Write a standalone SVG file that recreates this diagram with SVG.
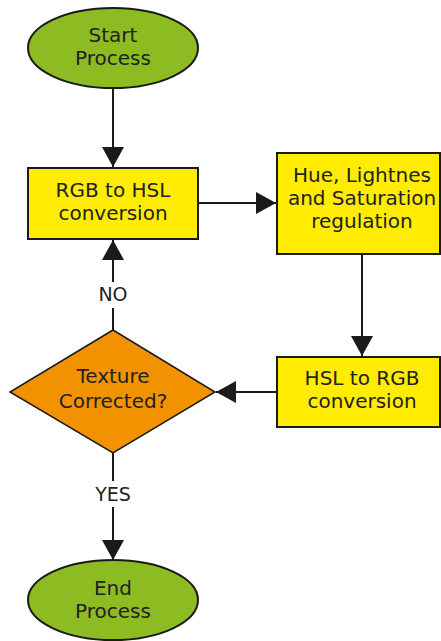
<svg xmlns="http://www.w3.org/2000/svg" width="441" height="641" viewBox="0 0 441 641">
<defs>
<marker id="arr" markerWidth="22" markerHeight="22" refX="20" refY="11" orient="auto" markerUnits="userSpaceOnUse">
<path d="M0,0 L20,11 L0,22 Z" fill="#1a1a1a"/>
</marker>
<style>
.t{font-family:"DejaVu Sans","Verdana",sans-serif;font-size:20px;fill:#222;text-anchor:middle}
.l{font-size:19px}
.term{fill:#8cbb22;stroke:#1a1a1a;stroke-width:2}
.proc{fill:#ffec00;stroke:#1a1a1a;stroke-width:2}
.dec{fill:#f39200;stroke:#1a1a1a;stroke-width:1.5}
.c{stroke:#1a1a1a;stroke-width:2;fill:none}
</style>
</defs>
<rect width="441" height="641" fill="#ffffff"/>
<g id="connectors">
<line class="c" x1="113" y1="88" x2="113" y2="167" marker-end="url(#arr)"/>
<line class="c" x1="198" y1="203" x2="276" y2="203" marker-end="url(#arr)"/>
<line class="c" x1="362" y1="254" x2="362" y2="356" marker-end="url(#arr)"/>
<line class="c" x1="277" y1="392" x2="216" y2="392" marker-end="url(#arr)"/>
<line class="c" x1="113" y1="330" x2="113" y2="308"/>
<line class="c" x1="113" y1="282" x2="113" y2="240" marker-end="url(#arr)"/>
<line class="c" x1="113" y1="453" x2="113" y2="481"/>
<line class="c" x1="113" y1="507" x2="113" y2="560" marker-end="url(#arr)"/>
<text class="t l" x="113" y="301">NO</text>
<text class="t l" x="113" y="501">YES</text>
</g>
<g id="start">
<ellipse class="term" cx="113" cy="48" rx="85" ry="40"/>
<text class="t" x="113" y="42">Start</text>
<text class="t" x="113" y="65">Process</text>
</g>
<g id="rgb2hsl">
<rect class="proc" x="28" y="168" width="170" height="71"/>
<text class="t" x="113" y="197">RGB to HSL</text>
<text class="t" x="113" y="220">conversion</text>
</g>
<g id="regulation">
<rect class="proc" x="277" y="153" width="163" height="101"/>
<text class="t" x="362" y="182">Hue, Lightnes</text>
<text class="t" x="362" y="205">and Saturation</text>
<text class="t" x="362" y="228">regulation</text>
</g>
<g id="hsl2rgb">
<rect class="proc" x="277" y="357" width="163" height="70"/>
<text class="t" x="362" y="385">HSL to RGB</text>
<text class="t" x="362" y="408">conversion</text>
</g>
<g id="decision">
<polygon class="dec" points="113,330 215,392 113,453 10,392"/>
<text class="t" x="113" y="383">Texture</text>
<text class="t" x="113" y="408">Corrected?</text>
</g>
<g id="end">
<ellipse class="term" cx="113" cy="600" rx="85" ry="40"/>
<text class="t" x="113" y="595">End</text>
<text class="t" x="113" y="618">Process</text>
</g>
</svg>
